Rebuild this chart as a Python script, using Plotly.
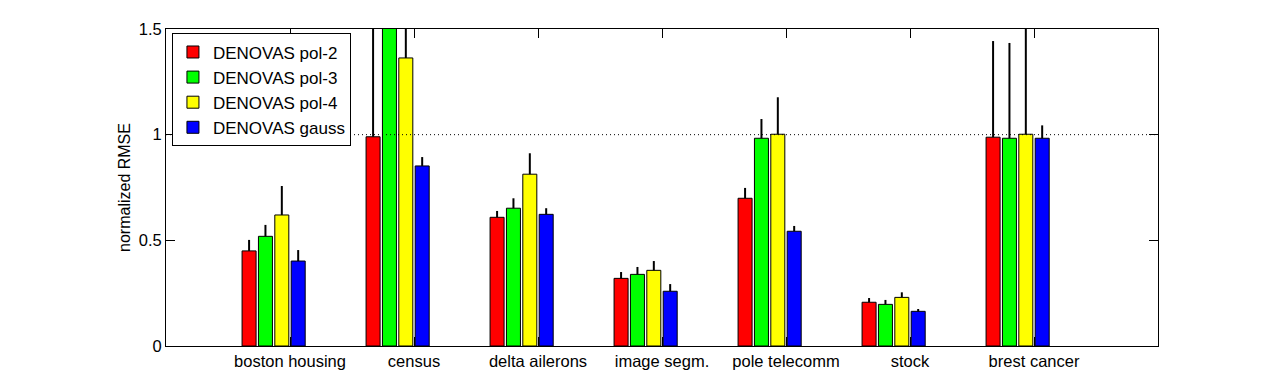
import plotly.graph_objects as go

# ---------------- Datos ----------------
categorias = ["boston housing", "census", "delta ailerons", "image segm.",
              "pole telecomm", "stock", "brest cancer"]
x_pos = [1, 2, 3, 4, 5, 6, 7]

series = ["DENOVAS pol-2", "DENOVAS pol-3", "DENOVAS pol-4", "DENOVAS gauss"]

pol2 = [0.45, 0.99, 0.609, 0.320, 0.699, 0.207, 0.988]
pol3 = [0.519, 1.55, 0.652, 0.339, 0.983, 0.197, 0.983]
pol4 = [0.62, 1.363, 0.813, 0.358, 1.002, 0.230, 1.002]
gauss = [0.402, 0.852, 0.623, 0.259, 0.543, 0.164, 0.983]

err_pol2 = [0.052, 0.60, 0.030, 0.030, 0.049, 0.020, 0.455]
err_pol3 = [0.054, 0.30, 0.047, 0.035, 0.091, 0.021, 0.451]
err_pol4 = [0.137, 0.40, 0.099, 0.044, 0.175, 0.024, 0.55]
err_gauss = [0.052, 0.042, 0.029, 0.034, 0.025, 0.011, 0.061]

valores = [pol2, pol3, pol4, gauss]
errores = [err_pol2, err_pol3, err_pol4, err_gauss]
colores = ["#ff0000", "#00ff00", "#ffff00", "#0000ff"]

# ---------------- Estilo ----------------
FONT = "Liberation Sans"
ANCHO = 0.113          # ancho de barra (unidades de categoría)
PASO = 0.132           # separación entre barras
centros = [-2.5, -1.5, -0.5, 0.5]

fig = go.Figure()
for nombre, ys, es, col, c in zip(series, valores, errores, colores, centros):
    fig.add_trace(go.Bar(
        x=x_pos, y=ys, name=nombre,
        width=ANCHO, offset=c * PASO - ANCHO / 2,
        marker=dict(color=col, line=dict(color="black", width=1)),
        error_y=dict(type="data", array=es, symmetric=False,
                     arrayminus=[0] * len(es), color="black",
                     thickness=2, width=0),
    ))

# línea punteada en y = 1
fig.add_hline(y=1, line=dict(color="black", width=1, dash="1px,3px"))

eje = dict(showline=True, linecolor="black", linewidth=1, mirror="ticks",
           ticks="inside", ticklen=9, tickcolor="black", showgrid=False,
           zeroline=False, tickfont=dict(family=FONT, size=16.5, color="black"))

fig.update_xaxes(range=[0, 8], tickmode="array", tickvals=x_pos,
                 ticktext=categorias, **eje)
fig.update_yaxes(range=[0, 1.5], tickmode="array", tickvals=[0, 0.5, 1, 1.5],
                 ticktext=["0", "0.5", "1", "1.5"],
                 title=dict(text="normalized RMSE",
                            font=dict(family=FONT, size=16, color="black"),
                            standoff=4),
                 **eje)

# la página tiene 8 px de margen en el body
fig.update_layout(
    width=1272, height=381,
    margin=dict(l=158, r=122, t=21, b=43),
    plot_bgcolor="white", paper_bgcolor="white",
    showlegend=True,
    legend=dict(x=0.006, y=0.986, xanchor="left", yanchor="top",
                bgcolor="white", bordercolor="black", borderwidth=1,
                font=dict(family=FONT, size=17, color="black"),
                itemwidth=30),
    font=dict(family=FONT, size=16, color="black"),
)

fig.write_html("out.html")
